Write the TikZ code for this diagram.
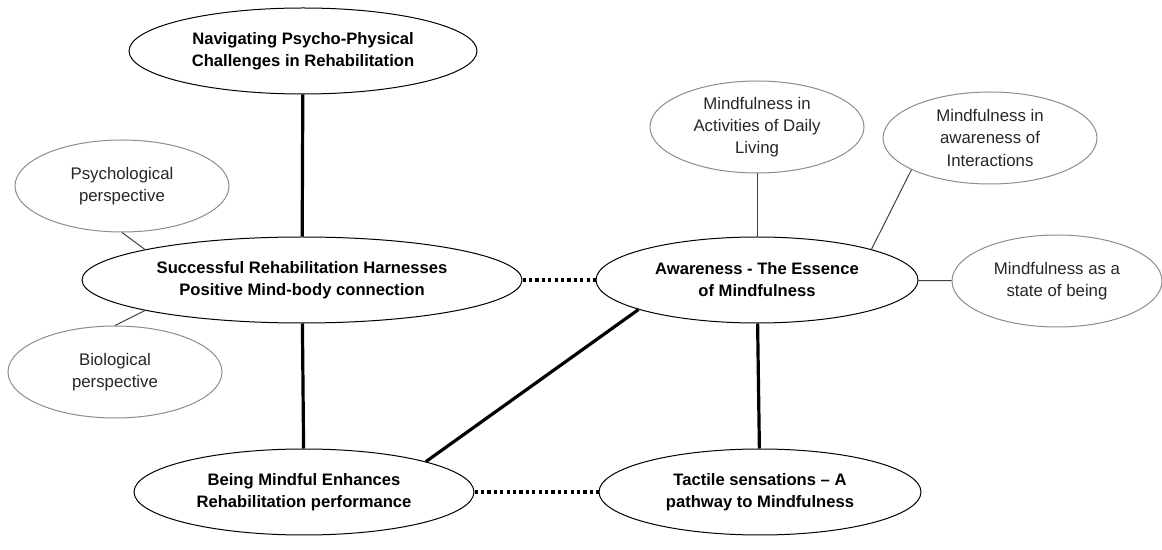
\documentclass[tikz,border=0pt]{standalone}
\usepackage{fontspec}
\setmainfont{Liberation Sans}
\usetikzlibrary{shapes.geometric}
\tikzset{
  mainnode/.style={ellipse, draw=black, line width=0.5pt, inner sep=0pt, align=center, minimum height=43pt, font=\fontsize{8.3}{11}\selectfont\bfseries},
  sidenode/.style={ellipse, draw=black!45, line width=0.5pt, inner sep=0pt, align=center, text=black!85, minimum width=107pt, minimum height=46pt, font=\fontsize{8.4}{11}\selectfont},
  strongline/.style={line width=1.6pt},
  weakline/.style={line width=0.5pt, black!75},
  dotline/.style={line width=1.6pt, dash pattern=on 1.6pt off 1.6pt}
}

\begin{document}
\begin{tikzpicture}[x=0.5pt, y=-0.5pt]
			\useasboundingbox (0,0) rectangle (1162,550);

			\node [mainnode, minimum width=174pt] (navig) at (303,51) {Navigating Psycho-Physical\\Challenges in Rehabilitation};
			\node [mainnode, minimum width=220pt] (success) at (302,280) {Successful Rehabilitation Harnesses\\Positive Mind-body connection};
			\node [mainnode, minimum width=170pt] (mindful) at (304,492) {Being Mindful Enhances\\Rehabilitation performance};
			\node [mainnode, minimum width=161pt] (aware) at (757,280) {Awareness - The Essence\\of Mindfulness};
			\node [mainnode, minimum width=161pt] (tactile) at (760,492) {Tactile sensations -- A\\pathway to Mindfulness};

			\node [sidenode] (psycho) at (122,186) {Psychological\\perspective};
			\node [sidenode] (bio) at (115,372) {Biological\\perspective};
			\node [sidenode] (daily) at (757,127) {Mindfulness in\\Activities of Daily\\Living};
			\node [sidenode] (interact) at (990,138) {Mindfulness in\\awareness of\\Interactions};
			\node [sidenode, minimum width=105pt] (being) at (1057,281) {Mindfulness as a\\state of being};

			%main links
			\draw [strongline] (navig) -- (success);
			\draw [strongline] (success) -- (mindful);
			\draw [strongline] (mindful.14) -- (aware.194);
			\draw [strongline] (aware) -- (tactile);
			\draw [dotline] (success) -- (aware);
			\draw [dotline] (mindful) -- (tactile);

			%side links
			\draw [weakline] (psycho.south) -- (success.169);
			\draw [weakline] (bio.north) -- (success.191);
			\draw [weakline] (daily) -- (aware);
			\draw [weakline] (interact.202) -- (aware.15);
			\draw [weakline] (being) -- (aware);
	\end{tikzpicture}
\end{document}
